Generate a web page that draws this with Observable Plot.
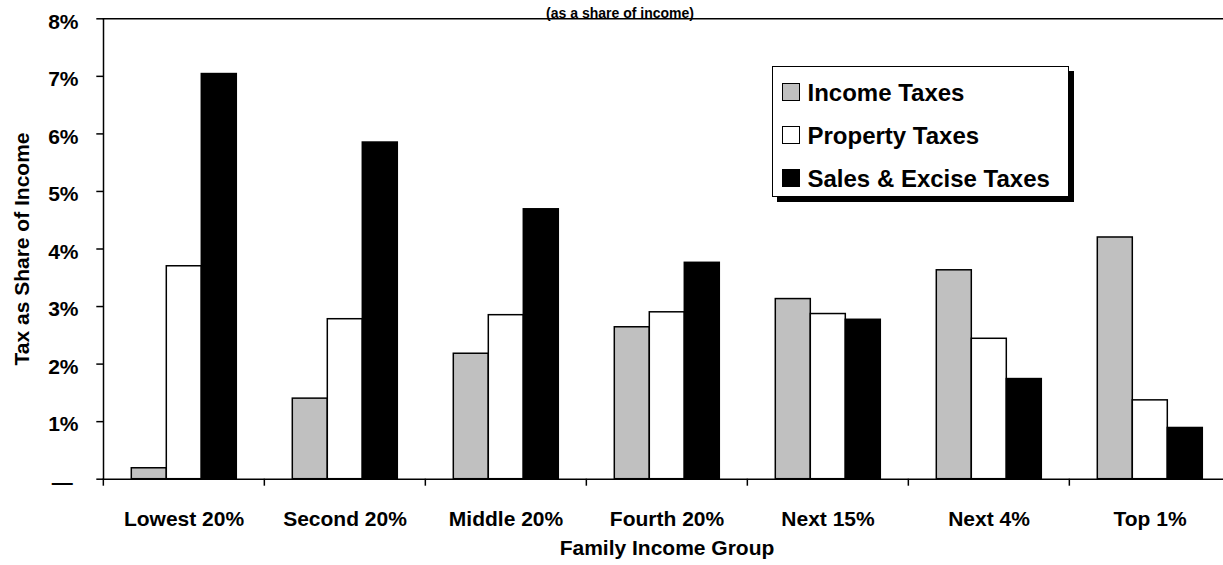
<!DOCTYPE html>
<html>
<head>
<meta charset="utf-8">
<script src="https://cdn.jsdelivr.net/npm/d3@7"></script>
<script src="https://cdn.jsdelivr.net/npm/@observablehq/plot@0.6"></script>
<style>
  html, body { margin: 0; padding: 0; background: #fff; overflow: hidden; }
  #wrap { position: relative; width: 1223px; height: 565px; overflow: hidden; }
  #legend {
    position: absolute; left: 771.5px; top: 65.5px;
    width: 297px; height: 131px; box-sizing: border-box;
    border: 1.5px solid #000; background: #fff;
    box-shadow: 5px 5px 0 #000;
    font-family: "Liberation Sans", Arial, sans-serif; font-weight: bold; font-size: 24px;
    padding: 4px 0 0 9px; color: #000;
  }
  #legend .row { height: 43px; line-height: 43px; white-space: nowrap; }
  #legend .sw { display: inline-block; width: 16px; height: 16px; border: 1.5px solid #000; margin-right: 8px; vertical-align: baseline; }
</style>
</head>
<body>
<div id="wrap"><div id="legend"></div></div>
<script>
// ---- data ----
const groups = ["Lowest 20%", "Second 20%", "Middle 20%", "Fourth 20%", "Next 15%", "Next 4%", "Top 1%"];
const seriesNames = ["Income Taxes", "Property Taxes", "Sales & Excise Taxes"];
const incomeTaxes = [0.19, 1.40, 2.18, 2.64, 3.13, 3.63, 4.20];
const propertyTaxes = [3.70, 2.78, 2.85, 2.90, 2.87, 2.44, 1.37];
const salesExciseTaxes = [7.04, 5.85, 4.69, 3.76, 2.77, 1.74, 0.89];
const yTicks = [0, 1, 2, 3, 4, 5, 6, 7, 8];
const seriesColors = ["#c0c0c0", "#ffffff", "#000000"];
const xTitle = "Family Income Group";
const yTitle = "Tax as Share of Income";
const subTitle = "(as a share of income)";

const seriesValues = [incomeTaxes, propertyTaxes, salesExciseTaxes];
const table = groups.flatMap((g, i) => seriesNames.map((s, j) => ({group: g, series: s, value: seriesValues[j][i]})));

const font = "'Liberation Sans', Arial, sans-serif";
const chart = Plot.plot({
  width: 1223, height: 565,
  marginLeft: 101.7, marginRight: 0, marginTop: 18.3, marginBottom: 86.3,
  style: {fontFamily: font, fontWeight: "bold", color: "#000", background: "#fff", overflow: "hidden"},
  fx: {domain: groups, range: [101.7, 1231], padding: 0, label: null},
  x: {domain: seriesNames, paddingInner: 0, paddingOuter: 0.75, axis: null},
  y: {domain: [0, 8], range: [478.7, 18.3]},
  color: {domain: seriesNames, range: seriesColors},
  marks: [
    Plot.barY(table, {fx: "group", x: "series", y: "value", fill: "series", stroke: "#000", strokeWidth: 1.5}),
    Plot.frame({anchor: "top", facet: "super", stroke: "#000", strokeWidth: 1.5}),
    Plot.frame({anchor: "bottom", facet: "super", stroke: "#000", strokeWidth: 1.5}),
    Plot.frame({anchor: "left", facet: "super", stroke: "#000", strokeWidth: 1.5}),
    Plot.axisY({ticks: yTicks, tickSize: 6.7, fill: "none", stroke: "#000", strokeWidth: 1.5, label: null}),
    Plot.axisY({ticks: yTicks, tickSize: 0, tickPadding: 25, tickFormat: d => d === 0 ? "\u2014\u00a0" : d + "%",
      fontSize: 21, fontWeight: "bold", fill: "#000", dy: 3, label: null}),
    Plot.axisFx({anchor: "bottom", tickSize: 7, fill: "none", stroke: "#000", strokeWidth: 1.5, dx: -80.66, label: null}),
    Plot.axisFx({anchor: "bottom", tickSize: 0, tickPadding: 31.4, fontSize: 21, fontWeight: "bold", fill: "#000", label: null}),
    Plot.text([xTitle], {text: d => d, frameAnchor: "bottom", facet: "super", dy: 75.5, fontSize: 21, fontWeight: "bold", fill: "#000"}),
    Plot.text([yTitle], {text: d => d, frameAnchor: "left", textAnchor: "middle", facet: "super", rotate: -90, dx: -81, fontSize: 21, fontWeight: "bold", fill: "#000"}),
    Plot.text([subTitle], {text: d => d, frameAnchor: "top", facet: "super", dx: -47, dy: -10.5, fontSize: 14, fontWeight: "bold", fill: "#000"})
  ]
});
chart.style.overflow = "hidden";
const wrap = document.getElementById("wrap");
wrap.insertBefore(chart, wrap.firstChild);

// legend
const legend = d3.select("#legend");
seriesNames.forEach((s, j) => {
  const row = legend.append("div").attr("class", "row");
  row.append("span").attr("class", "sw").style("background", seriesColors[j]);
  row.append("span").text(s);
});
</script>
</body>
</html>
